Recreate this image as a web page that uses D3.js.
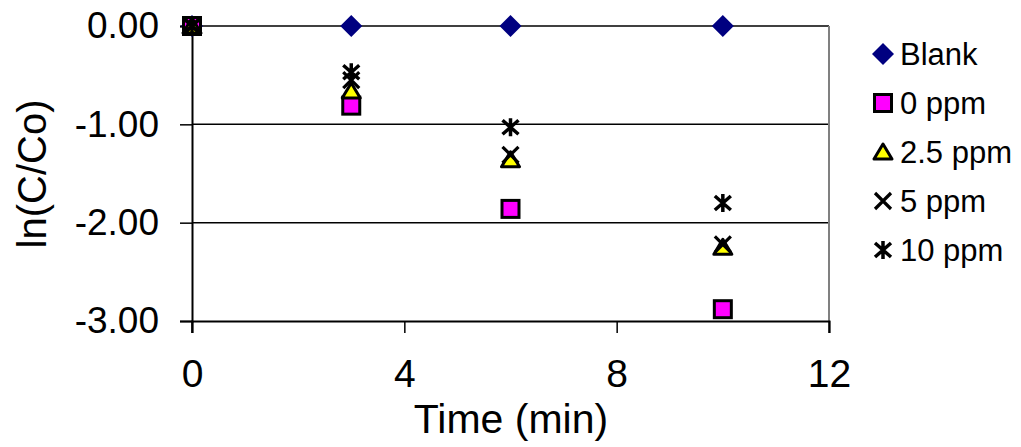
<!DOCTYPE html>
<html><head><meta charset="utf-8">
<script src="https://cdn.jsdelivr.net/npm/d3@7"></script>
<style>body{margin:0;background:#fff;} svg{display:block;font-family:"Liberation Sans",Arial,sans-serif;}</style>
</head><body>
<svg id="c" width="1021" height="447"></svg>
<script>
const times = [0, 3, 6, 10];
const blank = [0, 0, 0, 0];
const ppm0 = [0, -0.81, -1.86, -2.88];
const ppm2_5 = [0, -0.66, -1.36, -2.25];
const ppm5 = [0, -0.55, -1.31, -2.22];
const ppm10 = [0, -0.47, -1.03, -1.80];
const seriesNames = ["Blank", "0 ppm", "2.5 ppm", "5 ppm", "10 ppm"];
const xTicks = [0, 4, 8, 12];
const yTicks = [0, -1, -2, -3];

const series = [
  {name: seriesNames[0], values: blank, type: "diamond"},
  {name: seriesNames[1], values: ppm0, type: "square"},
  {name: seriesNames[2], values: ppm2_5, type: "triangle"},
  {name: seriesNames[3], values: ppm5, type: "x"},
  {name: seriesNames[4], values: ppm10, type: "asterisk"}
];

const svg = d3.select("#c");
const L = 192, R = 829, T = 26, B = 321;
const x = d3.scaleLinear().domain([0, 12]).range([L, R]);
const y = d3.scaleLinear().domain([-3, 0]).range([B, T]);
const FONT = "Liberation Sans, Arial, sans-serif";

// gridlines
svg.append("g").selectAll("line").data(yTicks.filter(v => v !== -3)).join("line")
  .attr("x1", L).attr("x2", R).attr("y1", d => y(d)).attr("y2", d => y(d))
  .attr("stroke", "#000").attr("stroke-width", 1.5);

// right border
svg.append("line").attr("x1", R).attr("x2", R).attr("y1", T).attr("y2", B + 12)
  .attr("stroke", "#808080").attr("stroke-width", 2);

// x axis
const xAxis = d3.axisBottom(x).tickValues(xTicks).tickSize(12).tickPadding(26).tickFormat(d3.format("d"));
const gx = svg.append("g").attr("transform", `translate(0,${B})`).call(xAxis);
gx.select(".domain").attr("stroke", "#000").attr("stroke-width", 2);
gx.selectAll(".tick line").attr("stroke", "#000").attr("stroke-width", 1.5);
gx.selectAll("text").attr("font-size", 39).attr("fill", "#000").attr("font-family", FONT);

// y axis
const fmtY = d => d3.format(".2f")(d).replace("\u2212", "-");
const yAxis = d3.axisLeft(y).tickValues(yTicks).tickSize(12).tickPadding(21).tickFormat(fmtY);
const gy = svg.append("g").attr("transform", `translate(${L},0)`).call(yAxis);
gy.select(".domain").attr("stroke", "#000").attr("stroke-width", 2);
gy.selectAll(".tick line").attr("stroke", "#000").attr("stroke-width", 1.5);
gy.selectAll("text").attr("font-size", 37).attr("fill", "#000").attr("font-family", FONT);
// extend y axis below bottom
svg.append("line").attr("x1", L).attr("x2", L).attr("y1", B).attr("y2", B + 12).attr("stroke", "#000").attr("stroke-width", 1.5);

// titles
svg.append("text").attr("x", 511).attr("y", 433).attr("text-anchor", "middle")
  .attr("font-size", 41).text("Time (min)");
svg.append("text").attr("transform", "translate(46,174) rotate(-90)").attr("text-anchor", "middle")
  .attr("font-size", 40).text("ln(C/Co)");

function drawMarker(g, type) {
  if (type === "diamond") {
    g.append("path").attr("d", "M0,-11L11,0L0,11L-11,0Z").attr("fill", "#000080");
  } else if (type === "square") {
    g.append("rect").attr("x", -8.5).attr("y", -8.5).attr("width", 17).attr("height", 17)
      .attr("fill", "#FF00FF").attr("stroke", "#000").attr("stroke-width", 3);
  } else if (type === "triangle") {
    g.append("path").attr("d", "M0,-8L9,7L-9,7Z").attr("fill", "#FFFF00")
      .attr("stroke", "#000").attr("stroke-width", 3).attr("stroke-linejoin", "round");
  } else if (type === "x") {
    g.append("path").attr("d", "M-8,-8L8,8M8,-8L-8,8").attr("stroke", "#000").attr("stroke-width", 3.2);
  } else if (type === "asterisk") {
    g.append("path").attr("d", "M-8,-7L8,7M8,-7L-8,7M0,-9L0,9").attr("stroke", "#000").attr("stroke-width", 3.5);
  }
}

series.forEach(s => {
  const g = svg.append("g");
  s.values.forEach((v, i) => {
    const m = g.append("g").attr("transform", `translate(${x(times[i])},${y(v)})`);
    drawMarker(m, s.type);
  });
});

// legend
const legY = [54, 103, 152, 201, 250];
series.forEach((s, i) => {
  const m = svg.append("g").attr("transform", `translate(883,${legY[i]})`);
  drawMarker(m, s.type);
  svg.append("text").attr("x", 900).attr("y", legY[i]).attr("dy", "0.36em")
    .attr("font-size", 31).text(s.name);
});
</script>
</body></html>
